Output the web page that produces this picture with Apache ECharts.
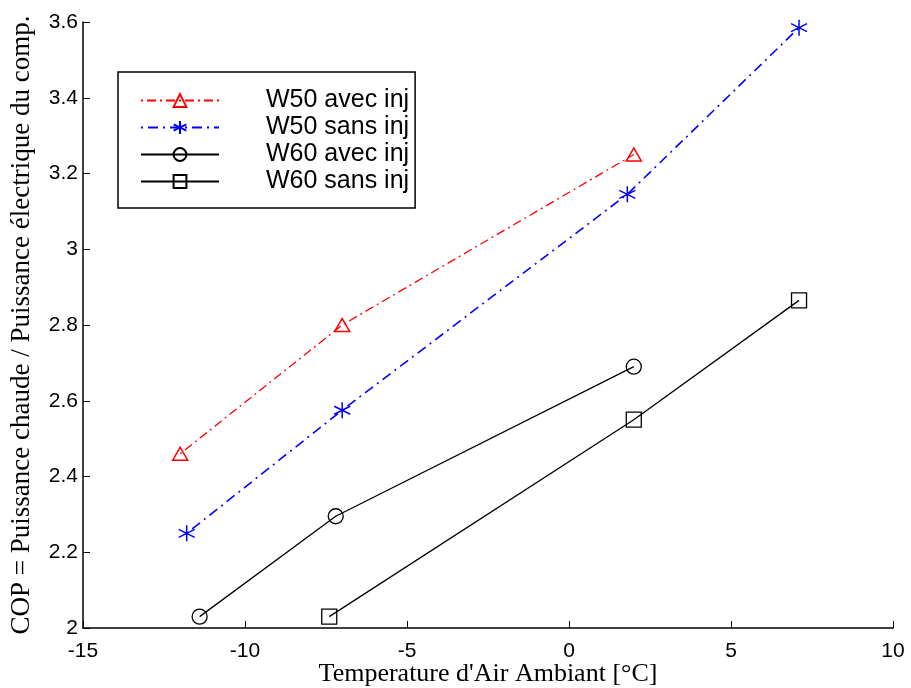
<!DOCTYPE html>
<html>
<head>
<meta charset="utf-8">
<script src="https://cdn.jsdelivr.net/npm/echarts@6/dist/echarts.min.js"></script>
<style>html,body{margin:0;padding:0;background:#fff;}#c{width:911px;height:688px;}</style>
</head>
<body>
<div id="c"></div>
<script>
const seriesNames = ['W50 avec inj', 'W50 sans inj', 'W60 avec inj', 'W60 sans inj'];
const w50AvecX = [-12.0, -7.0, 2.0];
const w50AvecY = [2.46, 2.80, 3.25];
const w50SansX = [-11.8, -7.0, 1.8, 7.1];
const w50SansY = [2.25, 2.575, 3.145, 3.585];
const w60AvecX = [-11.4, -7.2, 2.0];
const w60AvecY = [2.03, 2.295, 2.69];
const w60SansX = [-7.4, 2.0, 7.1];
const w60SansY = [2.03, 2.55, 2.865];

const zip = (xs, ys) => xs.map((x, i) => [x, ys[i]]);
const asterisk = 'path://M0,-10L0,10M-8.66,-5L8.66,5M-8.66,5L8.66,-5';

const chart = echarts.init(document.getElementById('c'), null, {renderer: 'canvas'});
const axisFont = {fontFamily: 'Liberation Sans', fontSize: 21, color: '#000'};

chart.setOption({
  animation: false,
  backgroundColor: '#fff',
  grid: {left: 83, right: 18, top: 22, bottom: 60, containLabel: false, outerBoundsMode: 'none'},
  xAxis: {
    type: 'value', min: -15, max: 10, interval: 5,
    name: "Temperature d'Air Ambiant [°C]", nameLocation: 'middle', nameGap: 33,
    nameMoveOverlap: false,
    nameTextStyle: {fontFamily: 'Liberation Serif', fontSize: 26, color: '#000'},
    axisLine: {show: true, onZero: false, lineStyle: {color: '#000', width: 1.5}},
    axisTick: {show: true, inside: true, length: 7, lineStyle: {color: '#000', width: 1}},
    axisLabel: Object.assign({margin: 13}, axisFont),
    splitLine: {show: false}
  },
  yAxis: {
    type: 'value', min: 2, max: 3.6, interval: 0.2,
    name: 'COP = Puissance chaude / Puissance électrique du comp.', nameLocation: 'middle', nameGap: 48,
    nameTextStyle: {fontFamily: 'Liberation Serif', fontSize: 27, color: '#000'},
    axisLine: {show: true, onZero: false, lineStyle: {color: '#000', width: 1.5}},
    axisTick: {show: true, inside: true, length: 7, lineStyle: {color: '#000', width: 1}},
    axisLabel: Object.assign({margin: 5}, axisFont),
    splitLine: {show: false}
  },
  legend: {
    orient: 'vertical', left: 118, top: 72,
    padding: [16, 6, 14, 22],
    backgroundColor: '#fff', borderColor: '#000', borderWidth: 1.5,
    itemWidth: 78, itemHeight: 16, itemGap: 2,
    textStyle: {fontFamily: 'Liberation Sans', fontSize: 25, color: '#000', padding: [0, 0, 0, 42]},
    data: seriesNames
  },
  series: [
    {
      name: seriesNames[0], type: 'line', data: zip(w50AvecX, w50AvecY),
      symbol: 'triangle', symbolSize: [15, 13],
      lineStyle: {color: '#ff0000', width: 1.3, type: [2, 4, 9, 4]},
      itemStyle: {color: 'rgba(0,0,0,0)', borderColor: '#ff0000', borderWidth: 1.5}
    },
    {
      name: seriesNames[1], type: 'line', data: zip(w50SansX, w50SansY),
      symbol: asterisk, symbolSize: 16,
      lineStyle: {color: '#0000ff', width: 1.6, type: [2, 5, 10, 5]},
      itemStyle: {color: 'rgba(0,0,0,0)', borderColor: '#0000ff', borderWidth: 1.5}
    },
    {
      name: seriesNames[2], type: 'line', data: zip(w60AvecX, w60AvecY),
      symbol: 'circle', symbolSize: 15,
      lineStyle: {color: '#000', width: 1.3, type: 'solid'},
      itemStyle: {color: 'rgba(0,0,0,0)', borderColor: '#000', borderWidth: 1.3}
    },
    {
      name: seriesNames[3], type: 'line', data: zip(w60SansX, w60SansY),
      symbol: 'rect', symbolSize: 15,
      lineStyle: {color: '#000', width: 1.3, type: 'solid'},
      itemStyle: {color: 'rgba(0,0,0,0)', borderColor: '#000', borderWidth: 1.3}
    }
  ]
});
</script>
</body>
</html>
